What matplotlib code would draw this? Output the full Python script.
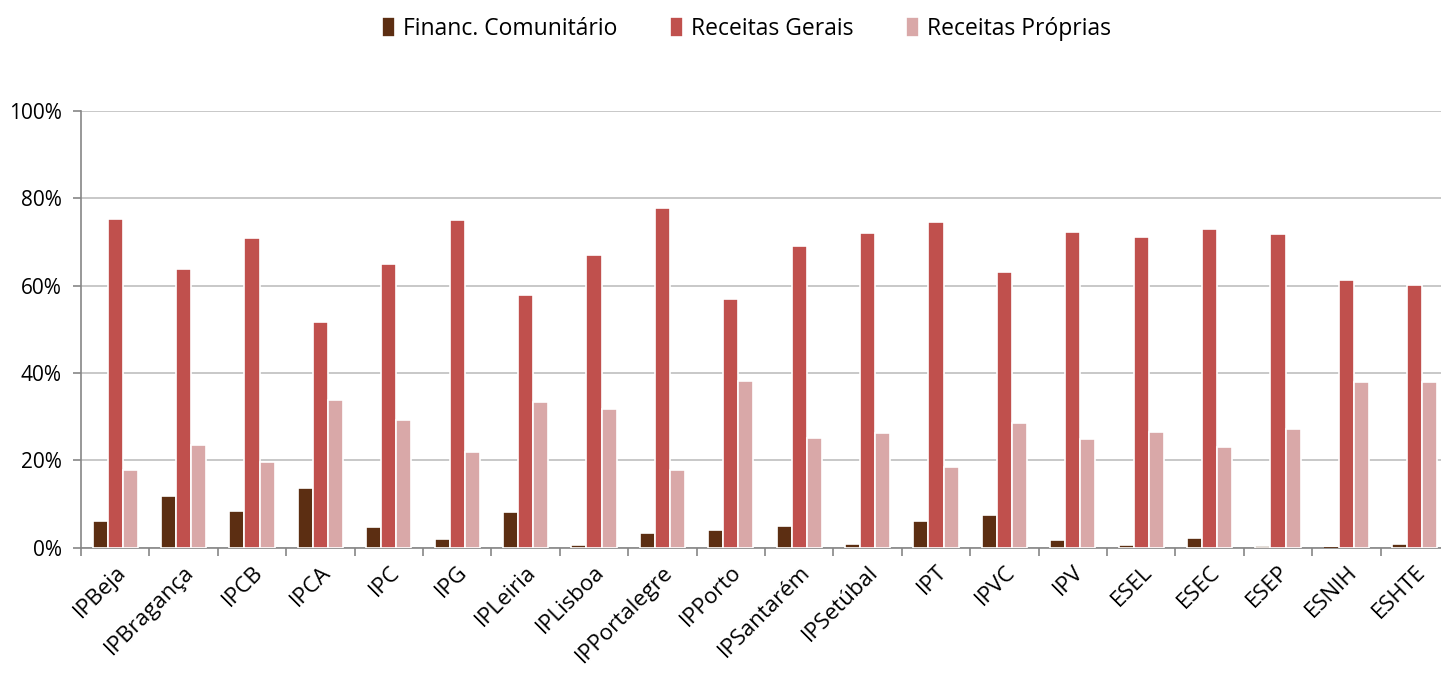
import numpy as np
import matplotlib
matplotlib.use("Agg")
import matplotlib.pyplot as plt
from matplotlib.ticker import PercentFormatter

plt.rcParams['font.family'] = ['Open Sans', 'DejaVu Sans']

# dados (% do total de receitas por instituição)
instituicoes = ['IPBeja', 'IPBragança', 'IPCB', 'IPCA', 'IPC', 'IPG', 'IPLeiria',
                'IPLisboa', 'IPPortalegre', 'IPPorto', 'IPSantarém', 'IPSetúbal',
                'IPT', 'IPVC', 'IPV', 'ESEL', 'ESEC', 'ESEP', 'ESNIH', 'ESHTE']
financ_comunitario = [6.1, 11.8, 8.5, 13.7, 4.7, 2.0, 8.1, 0.6, 3.4, 4.1,
                      5.0, 0.8, 6.0, 7.6, 1.8, 0.6, 2.3, 0.4, 0.0, 0.9]
receitas_gerais = [75.3, 63.8, 70.9, 51.6, 65.0, 75.0, 57.9, 67.0, 77.9, 56.9,
                   69.0, 72.1, 74.5, 63.1, 72.4, 71.1, 73.0, 71.8, 61.4, 60.2]
receitas_proprias = [17.8, 23.6, 19.7, 33.9, 29.3, 22.0, 33.3, 31.7, 17.8, 38.2,
                     25.2, 26.3, 18.5, 28.5, 24.9, 26.4, 23.1, 27.2, 37.9, 38.0]

series = [('Financ. Comunitário', financ_comunitario, '#5C2E12'),
          ('Receitas Gerais', receitas_gerais, '#C0504D'),
          ('Receitas Próprias', receitas_proprias, '#D9A8A8')]

fig = plt.figure(figsize=(14.41, 6.76), dpi=100)
ax = fig.add_axes([81 / 1441, 128.3 / 676, 1368 / 1441, 436.7 / 676])

x = np.arange(len(instituicoes))
w = 0.22
for i, (nome, vals, cor) in enumerate(series):
    vals = np.array(vals)
    ax.bar(x + (i - 1) * w, vals, width=w, color=cor,
           edgecolor=['white' if v > 0 else cor for v in vals],
           linewidth=1.2, label=nome, zorder=3)

ax.set_xlim(-0.5, len(instituicoes) - 0.5)
ax.set_ylim(0, 100)
ax.set_yticks(np.arange(0, 101, 20))
ax.yaxis.set_major_formatter(PercentFormatter(decimals=0))
ax.grid(axis='y', color='#BFBFBF', linewidth=1.2, zorder=0)

ax.set_xticks(x)
ax.set_xticklabels(instituicoes, rotation=45, ha='right', va='top',
                   rotation_mode='anchor', fontsize=16)
ax.set_xticks(np.arange(-0.5, len(instituicoes)), minor=True)
ax.tick_params(axis='x', which='major', length=0, pad=10)
ax.tick_params(axis='x', which='minor', length=6, width=1.2, color='#868686')
ax.tick_params(axis='y', length=6, width=1.2, color='#868686', labelsize=15, pad=8)

for s in ['top', 'right']:
    ax.spines[s].set_visible(False)
for s in ['left', 'bottom']:
    ax.spines[s].set_color('#868686')
    ax.spines[s].set_linewidth(1.2)

fig.legend(loc='upper center', bbox_to_anchor=(0.518, 1.005), ncol=3, frameon=False,
           fontsize=16.5, handlelength=0.55, handleheight=0.95, columnspacing=2.3,
           handletextpad=0.35)

fig.savefig('out.png', dpi=100)
